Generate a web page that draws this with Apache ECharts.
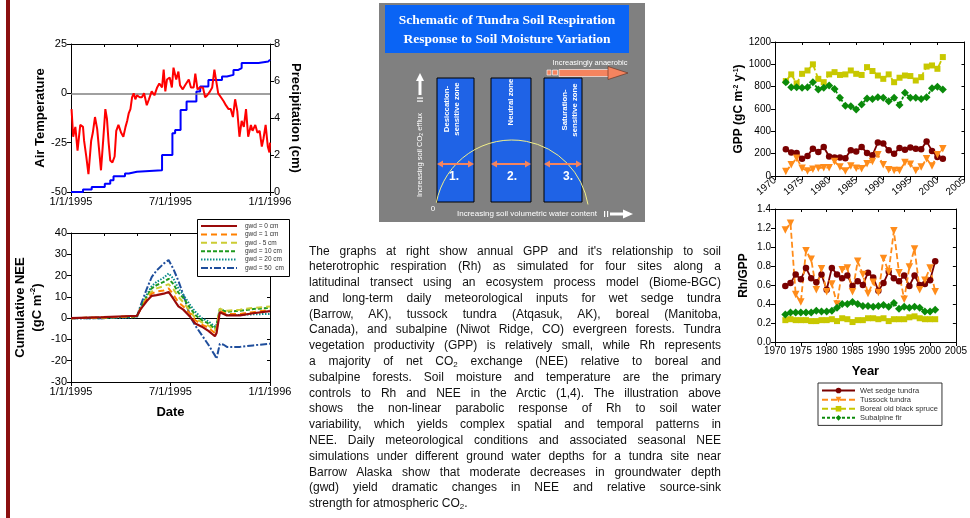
<!DOCTYPE html>
<html>
<head>
<meta charset="utf-8">
<script src="https://cdn.jsdelivr.net/npm/echarts@6/dist/echarts.min.js"></script>
<style>
html, body { margin: 0; padding: 0; background: #fff; }
#chart { position: absolute; left: 0; top: 0; width: 970px; height: 518px; }
#note { position: absolute; left: 309px; top: 243.5px; width: 412px;
  font-family: "Liberation Sans", Arial, sans-serif; font-size: 12px; line-height: 15.8px; color: #111; }
#note div { text-align: justify; text-align-last: justify; }
#note div.last { text-align-last: left; }
#note sub { font-size: 8px; vertical-align: -2px; line-height: 0; }
</style>
</head>
<body>
<div id="chart"></div>
<div id="note">
<div>The graphs at right show annual GPP and it's relationship to soil</div>
<div>heterotrophic respiration (Rh) as simulated for four sites along a</div>
<div>latitudinal transect using an ecosystem process model (Biome-BGC)</div>
<div>and long-term daily meteorological inputs for wet sedge tundra</div>
<div>(Barrow, AK), tussock tundra (Atqasuk, AK), boreal (Manitoba,</div>
<div>Canada), and subalpine (Niwot Ridge, CO) evergreen forests. Tundra</div>
<div>vegetation productivity (GPP) is relatively small, while Rh represents</div>
<div>a majority of net CO<sub>2</sub> exchange (NEE) relative to boreal and</div>
<div>subalpine forests. Soil moisture and temperature are the primary</div>
<div>controls to Rh and NEE in the Arctic (1,4). The illustration above</div>
<div>shows the non-linear parabolic response of Rh to soil water</div>
<div>variability, which yields complex spatial and temporal patterns in</div>
<div>NEE. Daily meteorological conditions and associated seasonal NEE</div>
<div>simulations under different ground water depths for a tundra site near</div>
<div>Barrow Alaska show that moderate decreases in groundwater depth</div>
<div>(gwd) yield dramatic changes in NEE and relative source-sink</div>
<div class="last">strength for atmospheric CO<sub>2</sub>.</div>
</div>
<script>
// ---- data ----
var dateLabels = ['1/1/1995', '7/1/1995', '1/1/1996'];

// daily air temperature (day of year, deg C), sampled from the red trace
var tempDay = [1,4,8,12,17,22,24,28,32,37,40,44,48,51,55,59,63,66,69,72,76,80,83,87,92,96,100,103,106,109,112,115,118,121,126,130,134,139,143,148,153,158,162,167,170,173,176,181,185,188,193,197,200,205,209,212,216,220,225,228,232,237,242,246,250,255,259,263,266,270,275,280,284,289,293,297,301,305,309,313,317,321,325,330,333,338,342,346,350,353,357,361,364,365];
var tempC = [-8,-22,-17,-29,-16,-17,-24,-32,-41,-24,-20,-12,-18,-27,-39,-24,-8,-13,-25,-34,-35,-32,-19,-16,-20,-22,-17,-14,-10,-8,-2,0,-3,-1,-2,-2,0,-6,-3,1,-1,3,5,3,12,1,7,8,3,13,7,11,4,2,4,3,7,3,3,10,2,3,3,-2,-1,1,3,12,11,0,-2,-4,-6,-8,-8,-12,-3,-9,-22,-14,-17,-8,-22,-16,-19,-16,-20,-19,-27,-23,-16,-27,-30,-25];

// cumulative precipitation (day where the step happens, cm)
var precipDay = [0, 22, 38, 62, 72, 78, 99, 106, 121, 167, 186, 191, 201, 212, 230, 237, 252, 277, 286, 298, 307, 313, 344, 362, 365];
var precipCm = [0, 0.13, 0.27, 0.45, 0.63, 0.85, 1.0, 1.09, 1.18, 2.0, 3.17, 3.35, 4.43, 4.89, 5.43, 5.7, 6.06, 6.24, 6.33, 6.6, 6.7, 6.97, 7.06, 7.15, 7.15];

// cumulative NEE for each ground water depth
var neeDay = [0, 60, 110, 121, 127, 139, 148, 157, 170, 179, 188, 197, 206, 219, 228, 240, 252, 264, 267, 273, 280, 286, 310, 334, 365];
var nee0  = [0, 0.5, 1, 1, 4, 8, 10.5, 10.8, 11.5, 12.3, 9, 5.5, 4, 0.5, -2.5, -4, -6, -8.5, -7, 2.8, 2, 1.3, 1.3, 2.3, 3.3];
var nee1  = [0, 0.3, 0.8, 1, 4, 9, 11.5, 12.5, 13, 14, 11, 7.5, 5.5, 2, -1, -3, -4.5, -7, -5.5, 3.5, 2.5, 2, 2, 2.8, 3.8];
var nee5  = [0, 0.3, 0.8, 1, 4, 9.5, 12.5, 14, 15, 16, 13.5, 10, 7.5, 3, 0, -2, -3.5, -6, -4.5, 4.5, 3.8, 3.5, 4, 4.8, 5.5];
var nee10 = [0, 0.3, 0.8, 1, 4.5, 10, 14, 15.5, 17, 18.5, 16, 12, 9.5, 4.5, 1.5, -1, -2.5, -5, -3.5, 4.5, 3.5, 3, 3.5, 4.3, 4.8];
var nee20 = [0, 0, 0.3, 0.5, 4.5, 11, 15, 17, 19, 21, 18.5, 14, 11, 6, 3, 0, -1.5, -4, -3, 3, 2, 1.5, 1.5, 1.8, 2];
var nee50 = [0, 0, 0.5, 0.8, 5.5, 13.8, 19.3, 22.4, 25.6, 27.3, 23, 17.5, 11, 0.5, -3.5, -8, -12.5, -17.5, -19, -12, -12.5, -13.5, -13.5, -12.8, -12];

// annual GPP and Rh/GPP, 1972-2001
var years = [1972,1973,1974,1975,1976,1977,1978,1979,1980,1981,1982,1983,1984,1985,1986,1987,1988,1989,1990,1991,1992,1993,1994,1995,1996,1997,1998,1999,2000,2001];
var gppWet       = [240,210,205,155,180,245,215,260,175,165,165,160,230,220,260,205,185,300,290,230,200,250,235,255,245,240,310,225,170,155];
var gppTussock   = [40,100,160,70,45,60,70,75,75,130,80,45,90,70,65,110,130,190,100,55,50,50,120,105,50,80,155,90,190,245];
var gppBoreal    = [850,910,830,915,945,1000,870,840,910,930,905,910,945,915,905,975,940,900,870,910,840,880,900,895,855,885,980,990,960,1065];
var gppSubalpine = [840,795,795,790,795,840,775,790,810,780,700,630,625,595,640,695,690,705,700,670,700,635,745,700,700,690,705,785,800,775];
var rhWet       = [0.59,0.62,0.71,0.66,0.78,0.67,0.63,0.71,0.55,0.78,0.71,0.67,0.70,0.59,0.64,0.60,0.73,0.68,0.54,0.62,0.74,0.67,0.64,0.70,0.59,0.70,0.60,0.61,0.65,0.85];
var rhTussock   = [1.18,1.25,0.50,0.42,0.96,0.87,0.55,0.77,0.53,0.61,0.40,0.76,0.78,0.53,0.85,0.71,0.51,0.63,0.52,0.88,0.74,1.17,0.73,0.45,0.79,0.98,0.55,0.65,0.78,0.53];
var rhBoreal    = [0.23,0.24,0.23,0.23,0.23,0.22,0.22,0.23,0.23,0.24,0.22,0.25,0.24,0.21,0.23,0.23,0.25,0.25,0.24,0.25,0.22,0.24,0.24,0.24,0.26,0.27,0.25,0.24,0.24,0.24];
var rhSubalpine = [0.29,0.31,0.31,0.31,0.31,0.31,0.33,0.32,0.32,0.33,0.36,0.40,0.40,0.42,0.40,0.38,0.38,0.37,0.38,0.39,0.37,0.41,0.35,0.37,0.36,0.37,0.36,0.32,0.32,0.34];

var FONT = '"Liberation Sans", Arial, sans-serif';

function zip(xs, ys) {
  return xs.map(function (x, i) { return [x, ys[i]]; });
}

function axis(extra) {
  var base = {
    axisLine: { show: true, onZero: false, lineStyle: { color: '#000', width: 1 } },
    axisTick: { show: true, length: 4, lineStyle: { color: '#000' } },
    axisLabel: { color: '#000', fontFamily: FONT, fontSize: 11, margin: 4, formatter: function (v) { return String(v); } },
    splitLine: { show: false },
    nameTextStyle: { color: '#000', fontFamily: FONT, fontSize: 13, fontWeight: 'bold' }
  };
  for (var k in extra) {
    if (typeof extra[k] === 'object' && base[k] && !Array.isArray(extra[k])) {
      base[k] = Object.assign({}, base[k], extra[k]);
    } else {
      base[k] = extra[k];
    }
  }
  return base;
}
function mirror(extra) {
  return axis(Object.assign({
    axisLabel: { show: false },
    axisTick: { show: true, inside: true, length: 3, lineStyle: { color: '#000' } }
  }, extra));
}

function dateFmt(v) { return dateLabels[Math.round(v / 182.5)]; }

// ---- schematic graphics ----
var salmon = '#f4845f';
function dblArrow(x1, x2, y) {
  return [
    { type: 'line', shape: { x1: x1 + 3, y1: y, x2: x2 - 3, y2: y }, style: { stroke: salmon, lineWidth: 2 } },
    { type: 'polygon', shape: { points: [[x1, y], [x1 + 6, y - 3.5], [x1 + 6, y + 3.5]] }, style: { fill: salmon } },
    { type: 'polygon', shape: { points: [[x2, y], [x2 - 6, y - 3.5], [x2 - 6, y + 3.5]] }, style: { fill: salmon } }
  ];
}
function txt(x, y, text, size, weight, rot, extra) {
  var st = { text: text, fill: '#fff', fontSize: size, fontWeight: weight || 'normal', fontFamily: FONT,
    align: 'center', verticalAlign: 'middle', textAlign: 'center', textVerticalAlign: 'middle' };
  if (extra) Object.assign(st, extra);
  return { type: 'text', x: x, y: y, rotation: rot || 0, style: st };
}

var schematic = [
  { type: 'rect', shape: { x: 6, y: 0, width: 4, height: 518 }, style: { fill: '#8b1010' } },
  { type: 'rect', shape: { x: 379, y: 3, width: 266, height: 219 }, style: { fill: '#808080' } },
  { type: 'rect', shape: { x: 385, y: 5, width: 244, height: 48 }, style: { fill: '#0a64f5' } },
  txt(507, 21, 'Schematic of Tundra Soil Respiration', 13.5, 'bold', 0, { fontFamily: '"Liberation Serif", serif' }),
  txt(507, 40, 'Response to Soil Moisture Variation', 13.5, 'bold', 0, { fontFamily: '"Liberation Serif", serif' }),
  { type: 'rect', shape: { x: 437, y: 78, width: 37, height: 124 }, style: { fill: '#1f63e6', stroke: '#000', lineWidth: 1 } },
  { type: 'rect', shape: { x: 491, y: 78, width: 40, height: 124 }, style: { fill: '#1f63e6', stroke: '#000', lineWidth: 1 } },
  { type: 'rect', shape: { x: 544, y: 78, width: 38, height: 124 }, style: { fill: '#1f63e6', stroke: '#000', lineWidth: 1 } },
  txt(452, 109, 'Desiccation-\nsensitive zone', 7.8, 'bold', Math.PI / 2, { lineHeight: 9.5 }),
  txt(511, 102, 'Neutral zone', 7.8, 'bold', Math.PI / 2),
  txt(570, 110, 'Saturation-\nsensitive zone', 7.8, 'bold', Math.PI / 2, { lineHeight: 9.5 }),
  { type: 'arc', shape: { cx: 512, cy: 217, r: 77, startAngle: 3.33, endAngle: 6.12, clockwise: true },
    style: { stroke: '#f2f08a', fill: null, lineWidth: 1 } },
  txt(454, 177, '1.', 12, 'bold'),
  txt(512, 177, '2.', 12, 'bold'),
  txt(568, 177, '3.', 12, 'bold'),
  // y arrow
  { type: 'polygon', shape: { points: [[416, 81], [420, 73], [424, 81]] }, style: { fill: '#fff' } },
  { type: 'rect', shape: { x: 418.5, y: 81, width: 3, height: 14 }, style: { fill: '#fff' } },
  { type: 'rect', shape: { x: 417, y: 97.5, width: 6, height: 1.2 }, style: { fill: '#fff' } },
  { type: 'rect', shape: { x: 417, y: 100.5, width: 6, height: 1.2 }, style: { fill: '#fff' } },
  { type: 'text', x: 420, y: 155, rotation: Math.PI / 2,
    style: { text: '{a|Increasing soil CO}{s|2}{a| efflux}', fill: '#fff', align: 'center', verticalAlign: 'middle',
      textAlign: 'center', textVerticalAlign: 'middle',
      rich: { a: { fontSize: 7.5, fontFamily: FONT, fill: '#fff', color: '#fff' },
              s: { fontSize: 5, fontFamily: FONT, fill: '#fff', color: '#fff', verticalAlign: 'bottom', padding: [4, 0, 0, 0] } } } },
  txt(433, 209, '0', 8),
  txt(527, 214, 'Increasing soil volumetric water content', 8),
  { type: 'rect', shape: { x: 604, y: 211, width: 1.2, height: 6 }, style: { fill: '#fff' } },
  { type: 'rect', shape: { x: 607, y: 211, width: 1.2, height: 6 }, style: { fill: '#fff' } },
  { type: 'rect', shape: { x: 610, y: 212.5, width: 14, height: 3 }, style: { fill: '#fff' } },
  { type: 'polygon', shape: { points: [[623, 209.5], [633, 214], [623, 218.5]] }, style: { fill: '#fff' } },
  // anaerobic arrow
  txt(590, 63, 'Increasingly anaerobic', 7.5),
  { type: 'rect', shape: { x: 547, y: 70, width: 4, height: 5 }, style: { fill: salmon, stroke: '#fff', lineWidth: 0.6 } },
  { type: 'rect', shape: { x: 552.5, y: 70, width: 5, height: 5 }, style: { fill: salmon, stroke: '#fff', lineWidth: 0.6 } },
  { type: 'rect', shape: { x: 559, y: 69.5, width: 50, height: 7 }, style: { fill: salmon, stroke: '#fff', lineWidth: 0.6 } },
  { type: 'polygon', shape: { points: [[608, 66.5], [628, 73], [608, 79.5]] }, style: { fill: salmon, stroke: '#5a2a1a', lineWidth: 0.6 } }
].concat(dblArrow(437, 474, 164), dblArrow(491, 531, 164), dblArrow(544, 582, 164));

// ---- series ----
var siteStyles = [
  { name: 'Wet sedge tundra', color: '#7a0000', symbol: 'circle', size: 6.5, rot: 0, type: 'solid', gpp: gppWet, rh: rhWet },
  { name: 'Tussock tundra', color: '#ff8c1a', symbol: 'triangle', size: 7.5, rot: 180, type: [6, 3], gpp: gppTussock, rh: rhTussock },
  { name: 'Boreal old black spruce', color: '#c8c800', symbol: 'rect', size: 6, rot: 0, type: [6, 3], gpp: gppBoreal, rh: rhBoreal },
  { name: 'Subalpine fir', color: '#0a8a0a', symbol: 'diamond', size: 8, rot: 0, type: [3, 2], gpp: gppSubalpine, rh: rhSubalpine }
];
var siteSeries = [];
siteStyles.forEach(function (s) {
  [[4, s.gpp], [6, s.rh]].forEach(function (p) {
    siteSeries.push({
      name: s.name, type: 'line', xAxisIndex: p[0], yAxisIndex: p[0],
      data: zip(years, p[1]), symbol: s.symbol, symbolSize: s.size, symbolRotate: s.rot,
      showAllSymbol: true, itemStyle: { color: s.color },
      lineStyle: { color: s.color, width: 1.8, type: s.type }
    });
  });
});

var neeStyles = [
  { name: 'gwd = 0 cm', data: nee0, color: '#9a0a0a', type: 'solid', width: 2.2 },
  { name: 'gwd = 1 cm', data: nee1, color: '#ff8000', type: [6, 4], width: 2 },
  { name: 'gwd - 5 cm', data: nee5, color: '#cccc33', type: [6, 4], width: 2 },
  { name: 'gwd = 10 cm', data: nee10, color: '#1f9a1f', type: [4, 2], width: 2 },
  { name: 'gwd = 20 cm', data: nee20, color: '#0a8a8a', type: [1.5, 1.5], width: 2 },
  { name: 'gwd = 50  cm', data: nee50, color: '#1f4e9c', type: [7, 2, 2, 2], width: 2 }
];
var neeSeries = neeStyles.map(function (s, i) {
  var ser = {
    name: s.name, type: 'line', xAxisIndex: 2, yAxisIndex: 2, data: zip(neeDay, s.data),
    showSymbol: false, symbol: 'none', itemStyle: { color: s.color },
    lineStyle: { color: s.color, width: s.width, type: s.type }, z: 10 - i
  };
  if (i === 0) {
    ser.markLine = { silent: true, symbol: ['none', 'none'], label: { show: false },
      lineStyle: { color: '#000', width: 1, type: 'solid' }, data: [{ yAxis: 0 }] };
  }
  return ser;
});

// NEE key box (drawn as graphics so the dash patterns show without markers)
var neeKey = [{ type: 'rect', z: 100, shape: { x: 197.5, y: 219.5, width: 92, height: 57 },
  style: { fill: '#fff', stroke: '#000', lineWidth: 1 } }];
neeStyles.forEach(function (s, i) {
  var y = 226 + i * 8.4;
  neeKey.push({ type: 'line', z: 101, shape: { x1: 201, y1: y, x2: 237, y2: y },
    style: { stroke: s.color, lineWidth: s.width, lineDash: s.type === 'solid' ? null : s.type } });
  neeKey.push({ type: 'text', z: 101, x: 245, y: y,
    style: { text: s.name, fill: '#333', fontSize: 6.5, fontFamily: FONT, align: 'left', verticalAlign: 'middle',
      textAlign: 'left', textVerticalAlign: 'middle' } });
});

var option = {
  animation: false,
  backgroundColor: '#fff',
  textStyle: { fontFamily: FONT },
  graphic: { elements: schematic.concat(neeKey) },
  grid: [
    { left: 71, top: 44, width: 199, height: 148 },
    { left: 71, top: 233, width: 199, height: 149 },
    { left: 775, top: 42, width: 192, height: 134 },
    { left: 775, top: 209, width: 191, height: 133 }
  ],
  legend: [
    { data: siteStyles.map(function (s) { return s.name; }), left: 818, top: 383, orient: 'vertical',
      itemWidth: 33, itemHeight: 7, itemGap: 0, padding: [3, 4, 3, 3],
      borderColor: '#333', borderWidth: 1, backgroundColor: '#fff', borderRadius: 0,
      textStyle: { fontSize: 7.5, fontFamily: FONT, color: '#333', lineHeight: 9.1 }, z: 20 }
  ],
  xAxis: [
    axis({ gridIndex: 0, type: 'value', min: 0, max: 365, interval: 182.5, axisLabel: { formatter: dateFmt } }),
    mirror({ gridIndex: 0, type: 'value', position: 'top', min: 0, max: 365, interval: 365 / 6 }),
    axis({ gridIndex: 1, type: 'value', min: 0, max: 365, interval: 182.5, axisLabel: { formatter: dateFmt },
      name: 'Date', nameLocation: 'middle', nameGap: 24 }),
    mirror({ gridIndex: 1, type: 'value', position: 'top', min: 0, max: 365, interval: 365 / 6 }),
    axis({ gridIndex: 2, type: 'value', min: 1970, max: 2005, interval: 5,
      axisLabel: { fontSize: 10, rotate: 40, margin: 3 } }),
    mirror({ gridIndex: 2, type: 'value', position: 'top', min: 1970, max: 2005, interval: 5 }),
    axis({ gridIndex: 3, type: 'value', min: 1970, max: 2005, interval: 5,
      axisLabel: { fontSize: 10, margin: 4 }, name: 'Year', nameLocation: 'middle', nameGap: 23 }),
    mirror({ gridIndex: 3, type: 'value', position: 'top', min: 1970, max: 2005, interval: 5 })
  ],
  yAxis: [
    axis({ gridIndex: 0, type: 'value', min: -50, max: 25, interval: 25,
      name: 'Air Temperature', nameLocation: 'middle', nameGap: 24 }),
    axis({ gridIndex: 0, type: 'value', position: 'right', min: 0, max: 8, interval: 2,
      name: 'Precipitation (cm)', nameLocation: 'middle', nameRotate: -90, nameGap: 19 }),
    axis({ gridIndex: 1, type: 'value', min: -30, max: 40, interval: 10,
      name: '{t|Cumulative NEE}\n{t|(gC m}{s|-2}{t|)}', nameLocation: 'middle', nameGap: 25,
      nameTextStyle: { rich: {
        t: { fontSize: 13, fontWeight: 'bold', fontFamily: FONT, color: '#000', lineHeight: 17 },
        s: { fontSize: 8, fontWeight: 'bold', fontFamily: FONT, color: '#000', verticalAlign: 'top', lineHeight: 17 } } } }),
    mirror({ gridIndex: 1, type: 'value', position: 'right', min: -30, max: 40, interval: 10 }),
    axis({ gridIndex: 2, type: 'value', min: 0, max: 1200, interval: 200, axisLabel: { fontSize: 10 },
      name: '{t|GPP (gC m}{s|-2}{t| y}{s|-1}{t|)}', nameLocation: 'middle', nameGap: 25,
      nameTextStyle: { rich: {
        t: { fontSize: 12, fontWeight: 'bold', fontFamily: FONT, color: '#000' },
        s: { fontSize: 7, fontWeight: 'bold', fontFamily: FONT, color: '#000', verticalAlign: 'top' } } } }),
    mirror({ gridIndex: 2, type: 'value', position: 'right', min: 0, max: 1200, interval: 200 }),
    axis({ gridIndex: 3, type: 'value', min: 0, max: 1.4, interval: 0.2,
      axisLabel: { fontSize: 10, formatter: function (v) { return v.toFixed(1); } },
      name: 'Rh/GPP', nameLocation: 'middle', nameGap: 25, nameTextStyle: { fontSize: 12 } }),
    mirror({ gridIndex: 3, type: 'value', position: 'right', min: 0, max: 1.4, interval: 0.2 })
  ],
  series: [
    { name: 'Temperature', type: 'line', xAxisIndex: 0, yAxisIndex: 0, data: zip(tempDay, tempC),
      showSymbol: false, symbol: 'none', lineStyle: { color: '#ff0000', width: 2 }, z: 5,
      markLine: { silent: true, symbol: ['none', 'none'], label: { show: false },
        lineStyle: { color: '#808080', width: 1.5, type: 'solid' }, data: [{ yAxis: 0 }] } },
    { name: 'Precipitation', type: 'line', xAxisIndex: 0, yAxisIndex: 1, data: zip(precipDay, precipCm),
      step: 'end', showSymbol: false, symbol: 'none', lineStyle: { color: '#0000ff', width: 2 }, z: 4 }
  ].concat(neeSeries, siteSeries)
};

var chart = echarts.init(document.getElementById('chart'), null, { renderer: 'canvas' });
chart.setOption(option);
window.addEventListener('resize', function () { chart.resize(); });
</script>
</body>
</html>
